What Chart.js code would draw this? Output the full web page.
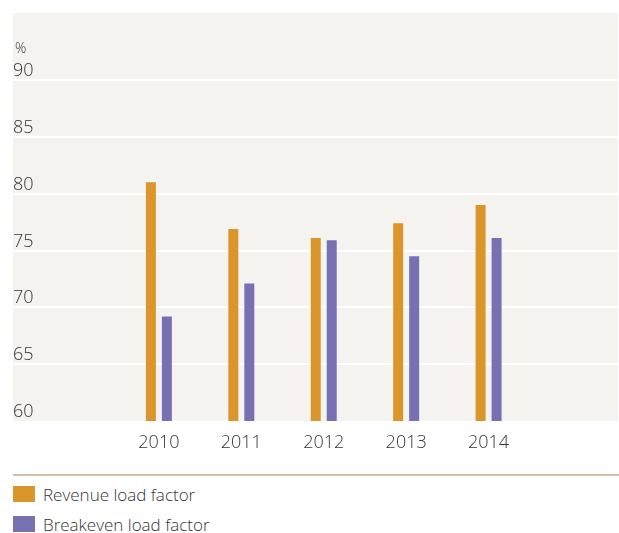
<!DOCTYPE html>
<html>
<head>
<meta charset="utf-8">
<script src="https://cdn.jsdelivr.net/npm/chart.js@4"></script>
<style>
  body { margin: 0; background: #fff; font-family: "Open Sans", sans-serif; font-weight: 300; color: #353535; }
  #wrap { position: relative; width: 619px; height: 460px; }
  #rule { margin: 14px 0 0 13px; height: 0; border-top: 2px solid #cdc2a6; }
  #legend { margin: 3px 0 0 13px; }
  .item { display: flex; align-items: center; height: 30px; font-size: 17px; }
  .swatch { width: 22px; height: 16px; margin-right: 8px; }
</style>
</head>
<body>
<div id="wrap"><canvas id="load-chart"></canvas></div>
<div id="rule"></div>
<div id="legend"></div>
<script>
const years = [2010, 2011, 2012, 2013, 2014];
const revenueLoad = [81.0, 76.9, 76.1, 77.4, 79.0];
const breakevenLoad = [69.2, 72.1, 75.9, 74.5, 76.1];
const yTicks = [60, 65, 70, 75, 80, 85, 90];

const textColor = '#353535';
const tickFont = { family: 'Open Sans', size: 18, weight: '300' };

// fills the plot area with the pale panel colour and writes the unit above the axis
const panel = {
    id: 'panel',
    beforeDraw(chart) {
        const { ctx, chartArea } = chart;
        ctx.save();
        ctx.fillStyle = '#f4f3f0';
        ctx.fillRect(chartArea.left, chartArea.top, chartArea.right - chartArea.left, chartArea.bottom - chartArea.top);
        ctx.restore();
    },
    afterDraw(chart) {
        const { ctx, chartArea, scales } = chart;
        ctx.save();
        ctx.fillStyle = textColor;
        ctx.font = '300 14px "Open Sans"';
        ctx.textBaseline = 'middle';
        ctx.fillText('%', chartArea.left + 2, scales.y.getPixelForValue(90) - 31);
        ctx.restore();
    }
};

const chart = new Chart(document.getElementById('load-chart'), {
    type: 'bar',
    data: {
        labels: years,
        datasets: [{
            label: 'Revenue load factor',
            data: revenueLoad,
            backgroundColor: '#da962b'
        }, {
            label: 'Breakeven load factor',
            data: breakevenLoad,
            backgroundColor: '#7771b3'
        }]
    },
    options: {
        responsive: true,
        maintainAspectRatio: false,
        animation: false,
        layout: { padding: { top: 13, left: 13, right: 1, bottom: 0 } },
        datasets: { bar: { categoryPercentage: 0.388, barPercentage: 0.625 } },
        plugins: { legend: { display: false }, tooltip: { enabled: false } },
        scales: {
            x: {
                type: 'linear',
                offset: false,
                min: 2008.23,
                max: 2015.57,
                afterBuildTicks: (axis) => { axis.ticks = years.map(v => ({ value: v })); },
                afterFit: (axis) => { axis.height = 39; },
                grid: { display: false, offset: false },
                border: { display: false },
                ticks: { color: textColor, font: tickFont, padding: 3, callback: (v) => String(v) }
            },
            y: {
                min: 60,
                max: 95.9,
                afterBuildTicks: (axis) => { axis.ticks = yTicks.map(v => ({ value: v })); },
                afterFit: (axis) => { axis.width = 0; },
                grid: {
                    color: (c) => c.tick && c.tick.value === 60 ? 'rgba(0,0,0,0)' : '#ffffff',
                    lineWidth: 2,
                    drawTicks: false
                },
                border: { display: false },
                ticks: { mirror: true, padding: 0, labelOffset: -9, color: textColor, font: tickFont }
            }
        }
    },
    plugins: [panel]
});

// legend rows under the rule, one per dataset
const legend = document.getElementById('legend');
chart.data.datasets.forEach(function (ds) {
    const row = document.createElement('div');
    row.className = 'item';
    const box = document.createElement('span');
    box.className = 'swatch';
    box.style.background = ds.backgroundColor;
    const txt = document.createElement('span');
    txt.textContent = ds.label;
    row.appendChild(box);
    row.appendChild(txt);
    legend.appendChild(row);
});
</script>
</body>
</html>
